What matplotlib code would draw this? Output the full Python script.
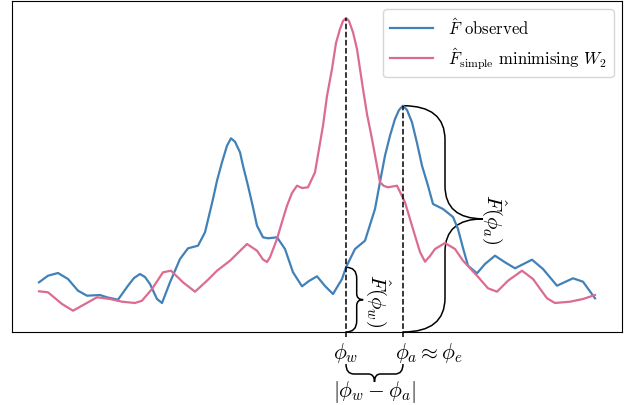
import numpy as np
import matplotlib
matplotlib.use("Agg")
import matplotlib.pyplot as plt
from matplotlib.path import Path
from matplotlib.patches import PathPatch

plt.rcParams["font.family"] = "serif"
plt.rcParams["font.serif"] = ["cmr10"]
plt.rcParams["mathtext.fontset"] = "cm"
plt.rcParams["axes.unicode_minus"] = False

# phase positions and densities
blue_x = [39, 48, 58, 68, 78, 87, 100, 107, 118, 128, 134, 140, 145, 150, 157, 162, 170, 180,
          188, 198, 205, 209, 213, 217, 222, 227, 231, 235, 240, 243, 248, 253, 257, 263,
          268, 277, 285, 293, 302, 309, 317, 325, 333, 342, 346, 355, 365, 375, 380, 385,
          390, 395, 399, 403, 407, 412, 417, 422, 428, 433, 443, 453, 458, 463, 468, 477,
          485, 495, 505, 515, 532, 543, 557, 573, 583, 595]
blue_y = [49.7, 56.3, 59, 53, 41.3, 36.3, 37, 34.7, 32.3, 46.3, 54, 58, 55, 48, 33, 29, 49.7, 73,
          83.7, 86.3, 99.7, 116.3, 133, 151.3, 169.7, 186.3, 193.7, 190.3, 179.7, 166.3, 146.3, 124.7, 106.3, 94.7,
          93.7, 94.7, 83, 59.7, 45.7, 51, 55.7, 46, 38, 53, 64.7, 83, 91.3, 123, 150, 176.3,
          196.3, 213, 222, 226.3, 222, 209.7, 189, 166.3, 146.3, 128, 123, 115, 103, 84, 66.3, 58.7,
          68, 76.3, 69.7, 63.7, 72.3, 63, 46.3, 53.7, 50.3, 33.7]

pink_x = [39, 48, 62, 73, 85, 97, 110, 122, 135, 142, 152, 163, 171, 183, 195, 207, 217,
          230, 247, 257, 263, 267, 270, 277, 282, 287, 292, 297, 302, 308, 315, 319, 323,
          327, 332, 336, 340, 343, 346, 349, 353, 357, 360, 363, 367, 372, 380, 384, 388,
          397, 405, 410, 415, 420, 425, 430, 435, 445, 455, 463, 477, 488, 497, 508, 522,
          533, 547, 555, 570, 583, 595]
pink_y = [40.7, 39.7, 28, 21.3, 28, 34.7, 33, 30.3, 29, 31.3, 43, 59.7, 61.3, 49.7, 40.3, 51.3, 61.3,
          71.3, 88, 81.3, 72.5, 70, 74.7, 93, 110, 126.3, 139, 146.3, 144, 144.7, 159.7, 183, 206.3,
          236, 263, 289, 303, 311, 314, 311, 299.7, 283, 263, 243, 218, 193, 149.7, 146, 144.7,
          146.3, 129.7, 113, 96.3, 80, 70.3, 76, 83, 89, 83, 71.3, 56.3, 43.7, 40.3, 51.3, 61.3,
          53, 33.7, 29, 30.3, 33, 37]

phi_w = 346
phi_a = 403

blue_c = "#4281b8"
pink_c = "#dc6b94"


def vbrace(ax, x0, y0, y1, a, b, r_end, r_mid, **kw):
    # curly brace running from y0 (bottom) to y1 (top), bulging to the right
    ym = (y0 + y1) / 2
    verts = [(x0, y1), (x0 + a, y1), (x0 + a, y1 - r_end),
             (x0 + a, ym + r_mid),
             (x0 + a, ym), (x0 + a + b, ym),
             (x0 + a, ym), (x0 + a, ym - r_mid),
             (x0 + a, y0 + r_end),
             (x0 + a, y0), (x0, y0)]
    codes = [Path.MOVETO, Path.CURVE3, Path.CURVE3, Path.LINETO,
             Path.CURVE3, Path.CURVE3, Path.CURVE3, Path.CURVE3,
             Path.LINETO, Path.CURVE3, Path.CURVE3]
    ax.add_patch(PathPatch(Path(verts, codes), fill=False, **kw))


def hbrace(ax, x0, x1, y0, a, b, r_end, r_mid, **kw):
    # curly brace from x0 to x1 at height y0, tip pointing down
    xm = (x0 + x1) / 2
    verts = [(x0, y0), (x0, y0 - a), (x0 + r_end, y0 - a),
             (xm - r_mid, y0 - a),
             (xm, y0 - a), (xm, y0 - a - b),
             (xm, y0 - a), (xm + r_mid, y0 - a),
             (x1 - r_end, y0 - a),
             (x1, y0 - a), (x1, y0)]
    codes = [Path.MOVETO, Path.CURVE3, Path.CURVE3, Path.LINETO,
             Path.CURVE3, Path.CURVE3, Path.CURVE3, Path.CURVE3,
             Path.LINETO, Path.CURVE3, Path.CURVE3]
    ax.add_patch(PathPatch(Path(verts, codes), fill=False, **kw))


fig = plt.figure(figsize=(6.25, 4.06), dpi=100)
ax = fig.add_axes([12 / 625, 73 / 406, 610 / 625, 331 / 406])

ax.plot(blue_x, blue_y, color=blue_c, lw=1.6, solid_joinstyle="round",
        label=r"$\hat{F}$ observed")
ax.plot(pink_x, pink_y, color=pink_c, lw=1.6, solid_joinstyle="round",
        label=r"$\hat{F}_{\mathrm{simple}}$ minimising $W_2$")

f_w = blue_y[blue_x.index(phi_w)]
f_a = blue_y[blue_x.index(phi_a)]
top_w = pink_y[pink_x.index(phi_w)]

ax.plot([phi_w, phi_w], [-5, top_w], "k--", lw=1.1, clip_on=False)
ax.plot([phi_a, phi_a], [-5, f_a], "k--", lw=1.1, clip_on=False)

vbrace(ax, phi_w, 0, f_w, 10.7, 6.5, 11, 6, color="k", lw=1.1)
vbrace(ax, phi_a, 0, f_a, 42, 38, 34, 33, color="k", lw=1.1)
hbrace(ax, phi_w, phi_a, -32, 10, 8, 8, 6, color="k", lw=1.1, clip_on=False)

ax.text(phi_w + 31.5, f_w / 2, r"$\hat{F}(\phi_w)$", rotation=-90, ha="center",
        va="center", fontsize=15)
ax.text(phi_a + 91, f_a / 2, r"$\hat{F}(\phi_a)$", rotation=-90, ha="center",
        va="center", fontsize=15)
ax.text(phi_w, -20, r"$\phi_w$", ha="center", va="center", fontsize=15.5)
ax.text(phi_a - 8, -20, r"$\phi_a \approx \phi_e$", ha="left", va="center", fontsize=15.5)
ax.text((phi_w + phi_a) / 2, -59, r"$|\phi_w - \phi_a|$", ha="center", va="center",
        fontsize=15.5)

ax.set_xlim(12, 622)
ax.set_ylim(0, 331)
ax.set_xticks([])
ax.set_yticks([])
ax.legend(loc="upper right", fontsize=12, handlelength=2.6, handletextpad=0.9)

fig.savefig("out.png", dpi=100)
